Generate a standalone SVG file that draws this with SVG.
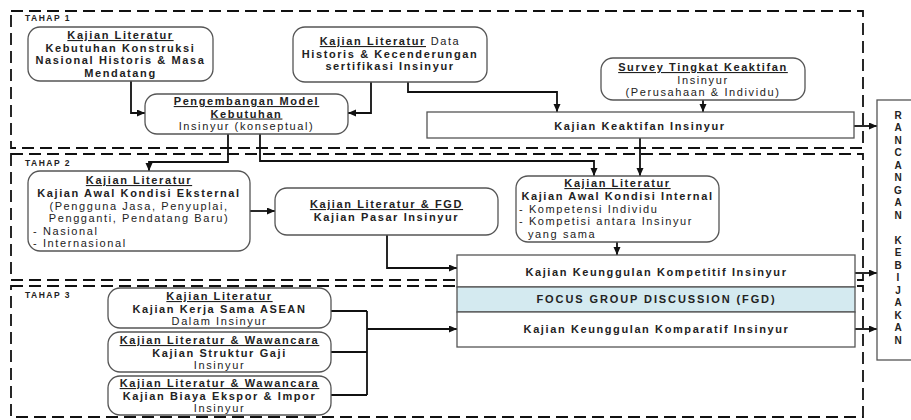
<svg xmlns="http://www.w3.org/2000/svg" width="911" height="420" viewBox="0 0 911 420">
<defs>
<marker id="ah" markerUnits="userSpaceOnUse" markerWidth="9" markerHeight="8" refX="8" refY="3.5" orient="auto">
<path d="M0,0 L8,3.5 L0,7 z" fill="#111"/>
</marker>
<style>
text{font-family:"Liberation Sans",Arial,sans-serif;font-size:11px;letter-spacing:1.6px;fill:#222;text-anchor:middle}
.b{font-weight:bold}
.u{text-decoration:underline}
.l{text-anchor:start}
.tahap{font-size:8.5px;font-weight:bold;letter-spacing:1.5px;text-anchor:start}
.rk{font-size:10px;font-weight:bold;letter-spacing:0}
.node{fill:#fff;stroke:#555;stroke-width:1.3}
.stage{fill:none;stroke:#111;stroke-width:1.8;stroke-dasharray:12 6}
.con{fill:none;stroke:#111;stroke-width:1.8}
.arr{marker-end:url(#ah)}
</style>
</defs>
<rect width="911" height="420" fill="#fff"/>
<g id="stages">
<rect class="stage" x="11" y="11" width="852" height="137"/>
<rect class="stage" x="11" y="154" width="852" height="126"/>
<rect class="stage" x="11" y="286" width="852" height="131"/>
<text class="tahap" x="25" y="21">TAHAP 1</text>
<text class="tahap" x="25" y="166">TAHAP 2</text>
<text class="tahap" x="25" y="298">TAHAP 3</text>
</g>
<g id="connectors">
<path class="con arr" d="M131,81 V113 H145"/>
<path class="con arr" d="M371,82 V113 H348"/>
<path class="con arr" d="M408,82 V92 H557 V112"/>
<path class="con arr" d="M703,100 V112"/>
<path class="con arr" d="M854,126 H877"/>
<path class="con arr" d="M228,134 V162 H149 V171"/>
<path class="con arr" d="M260,134 V161 H594 V176"/>
<path class="con arr" d="M640,138 V176"/>
<path class="con arr" d="M250,211 H275"/>
<path class="con arr" d="M387,235 V268 H457"/>
<path class="con arr" d="M617,242 V255"/>
<path class="con arr" d="M855,273 H877"/>
<path class="con arr" d="M855,329 H877"/>
<path class="con" d="M331,311 H367 M331,352 H367 M331,395 H367 M367,311 V395"/>
<path class="con arr" d="M367,329 H457"/>
</g>
<g id="n-kebutuhan">
<rect class="node" x="28" y="27" width="185" height="54" rx="12"/>
<text class="b u" x="120.5" y="39">Kajian Literatur</text>
<text class="b" x="120.5" y="51.5">Kebutuhan Konstruksi</text>
<text class="b" x="120.5" y="64">Nasional Historis &amp; Masa</text>
<text class="b" x="120.5" y="76.5">Mendatang</text>
</g>
<g id="n-pengembangan">
<rect class="node" x="145" y="94" width="203" height="40" rx="12"/>
<text class="b u" x="246.5" y="105">Pengembangan Model</text>
<text class="b u" x="246.5" y="117.5">Kebutuhan</text>
<text x="246.5" y="130">Insinyur (konseptual)</text>
</g>
<g id="n-data">
<rect class="node" x="293" y="27" width="194" height="55" rx="12"/>
<text x="390" y="45"><tspan class="b u">Kajian Literatur</tspan> Data</text>
<text class="b" x="390" y="57.5">Historis &amp; Kecenderungan</text>
<text class="b" x="390" y="70">sertifikasi Insinyur</text>
</g>
<g id="n-survey">
<rect class="node" x="601" y="58" width="204" height="42" rx="12"/>
<text class="b u" x="703" y="71">Survey Tingkat Keaktifan</text>
<text x="703" y="83.5">Insinyur</text>
<text x="703" y="96">(Perusahaan &amp; Individu)</text>
</g>
<g id="n-keaktifan">
<rect class="node" x="427" y="112" width="427" height="26"/>
<text class="b" x="640" y="129.5">Kajian Keaktifan Insinyur</text>
</g>
<g id="n-eksternal">
<rect class="node" x="28" y="171" width="222" height="80" rx="12"/>
<text class="b u" x="139" y="184">Kajian Literatur</text>
<text class="b" x="139" y="197">Kajian Awal Kondisi Eksternal</text>
<text x="139" y="209.5">(Pengguna Jasa, Penyuplai,</text>
<text x="139" y="222">Pengganti, Pendatang Baru)</text>
<text class="l" x="33" y="234.5">- Nasional</text>
<text class="l" x="33" y="247">- Internasional</text>
</g>
<g id="n-pasar">
<rect class="node" x="275" y="188" width="223" height="47" rx="12"/>
<text class="b u" x="386.5" y="208">Kajian Literatur &amp; FGD</text>
<text class="b" x="386.5" y="221">Kajian Pasar Insinyur</text>
</g>
<g id="n-internal">
<rect class="node" x="516" y="176" width="203" height="66" rx="12"/>
<text class="b u" x="617.5" y="187">Kajian Literatur</text>
<text class="b" x="617.5" y="200">Kajian Awal Kondisi Internal</text>
<text class="l" x="519" y="212.5">- Kompetensi Individu</text>
<text class="l" x="519" y="225">- Kompetisi antara Insinyur</text>
<text class="l" x="528" y="237.5">yang sama</text>
</g>
<g id="n-kompetitif">
<rect class="node" x="457" y="255" width="398" height="32"/>
<text class="b" x="656.5" y="275.5">Kajian Keunggulan Kompetitif Insinyur</text>
</g>
<g id="n-fgd">
<rect class="node" x="457" y="287" width="398" height="25" style="fill:#d4eaf0"/>
<text class="b" x="656.5" y="303" style="letter-spacing:1.9px">FOCUS GROUP DISCUSSION (FGD)</text>
</g>
<g id="n-komparatif">
<rect class="node" x="457" y="312" width="398" height="35"/>
<text class="b" x="656.5" y="333">Kajian Keunggulan Komparatif Insinyur</text>
</g>
<g id="n-asean">
<rect class="node" x="108" y="288" width="223" height="40" rx="12"/>
<text class="b u" x="219.5" y="300">Kajian Literatur</text>
<text class="b" x="219.5" y="312.5">Kajian Kerja Sama ASEAN</text>
<text x="219.5" y="325">Dalam Insinyur</text>
</g>
<g id="n-gaji">
<rect class="node" x="108" y="332" width="223" height="40" rx="12"/>
<text class="b u" x="219.5" y="344">Kajian Literatur &amp; Wawancara</text>
<text class="b" x="219.5" y="356.5">Kajian Struktur Gaji</text>
<text x="219.5" y="369">Insinyur</text>
</g>
<g id="n-biaya">
<rect class="node" x="108" y="376" width="223" height="39" rx="12"/>
<text class="b u" x="219.5" y="387">Kajian Literatur &amp; Wawancara</text>
<text class="b" x="219.5" y="399.5">Kajian Biaya Ekspor &amp; Impor</text>
<text x="219.5" y="412">Insinyur</text>
</g>
<g id="n-rancangan">
<rect class="node" x="877" y="100" width="50" height="260"/>
<text class="rk" x="898" y="118.5">R</text>
<text class="rk" x="898" y="131">A</text>
<text class="rk" x="898" y="143.5">N</text>
<text class="rk" x="898" y="156">C</text>
<text class="rk" x="898" y="168.5">A</text>
<text class="rk" x="898" y="181">N</text>
<text class="rk" x="898" y="193.5">G</text>
<text class="rk" x="898" y="206">A</text>
<text class="rk" x="898" y="218.5">N</text>
<text class="rk" x="898" y="243.5">K</text>
<text class="rk" x="898" y="256">E</text>
<text class="rk" x="898" y="268.5">B</text>
<text class="rk" x="898" y="281">I</text>
<text class="rk" x="898" y="293.5">J</text>
<text class="rk" x="898" y="306">A</text>
<text class="rk" x="898" y="318.5">K</text>
<text class="rk" x="898" y="331">A</text>
<text class="rk" x="898" y="343.5">N</text>
</g>
</svg>
